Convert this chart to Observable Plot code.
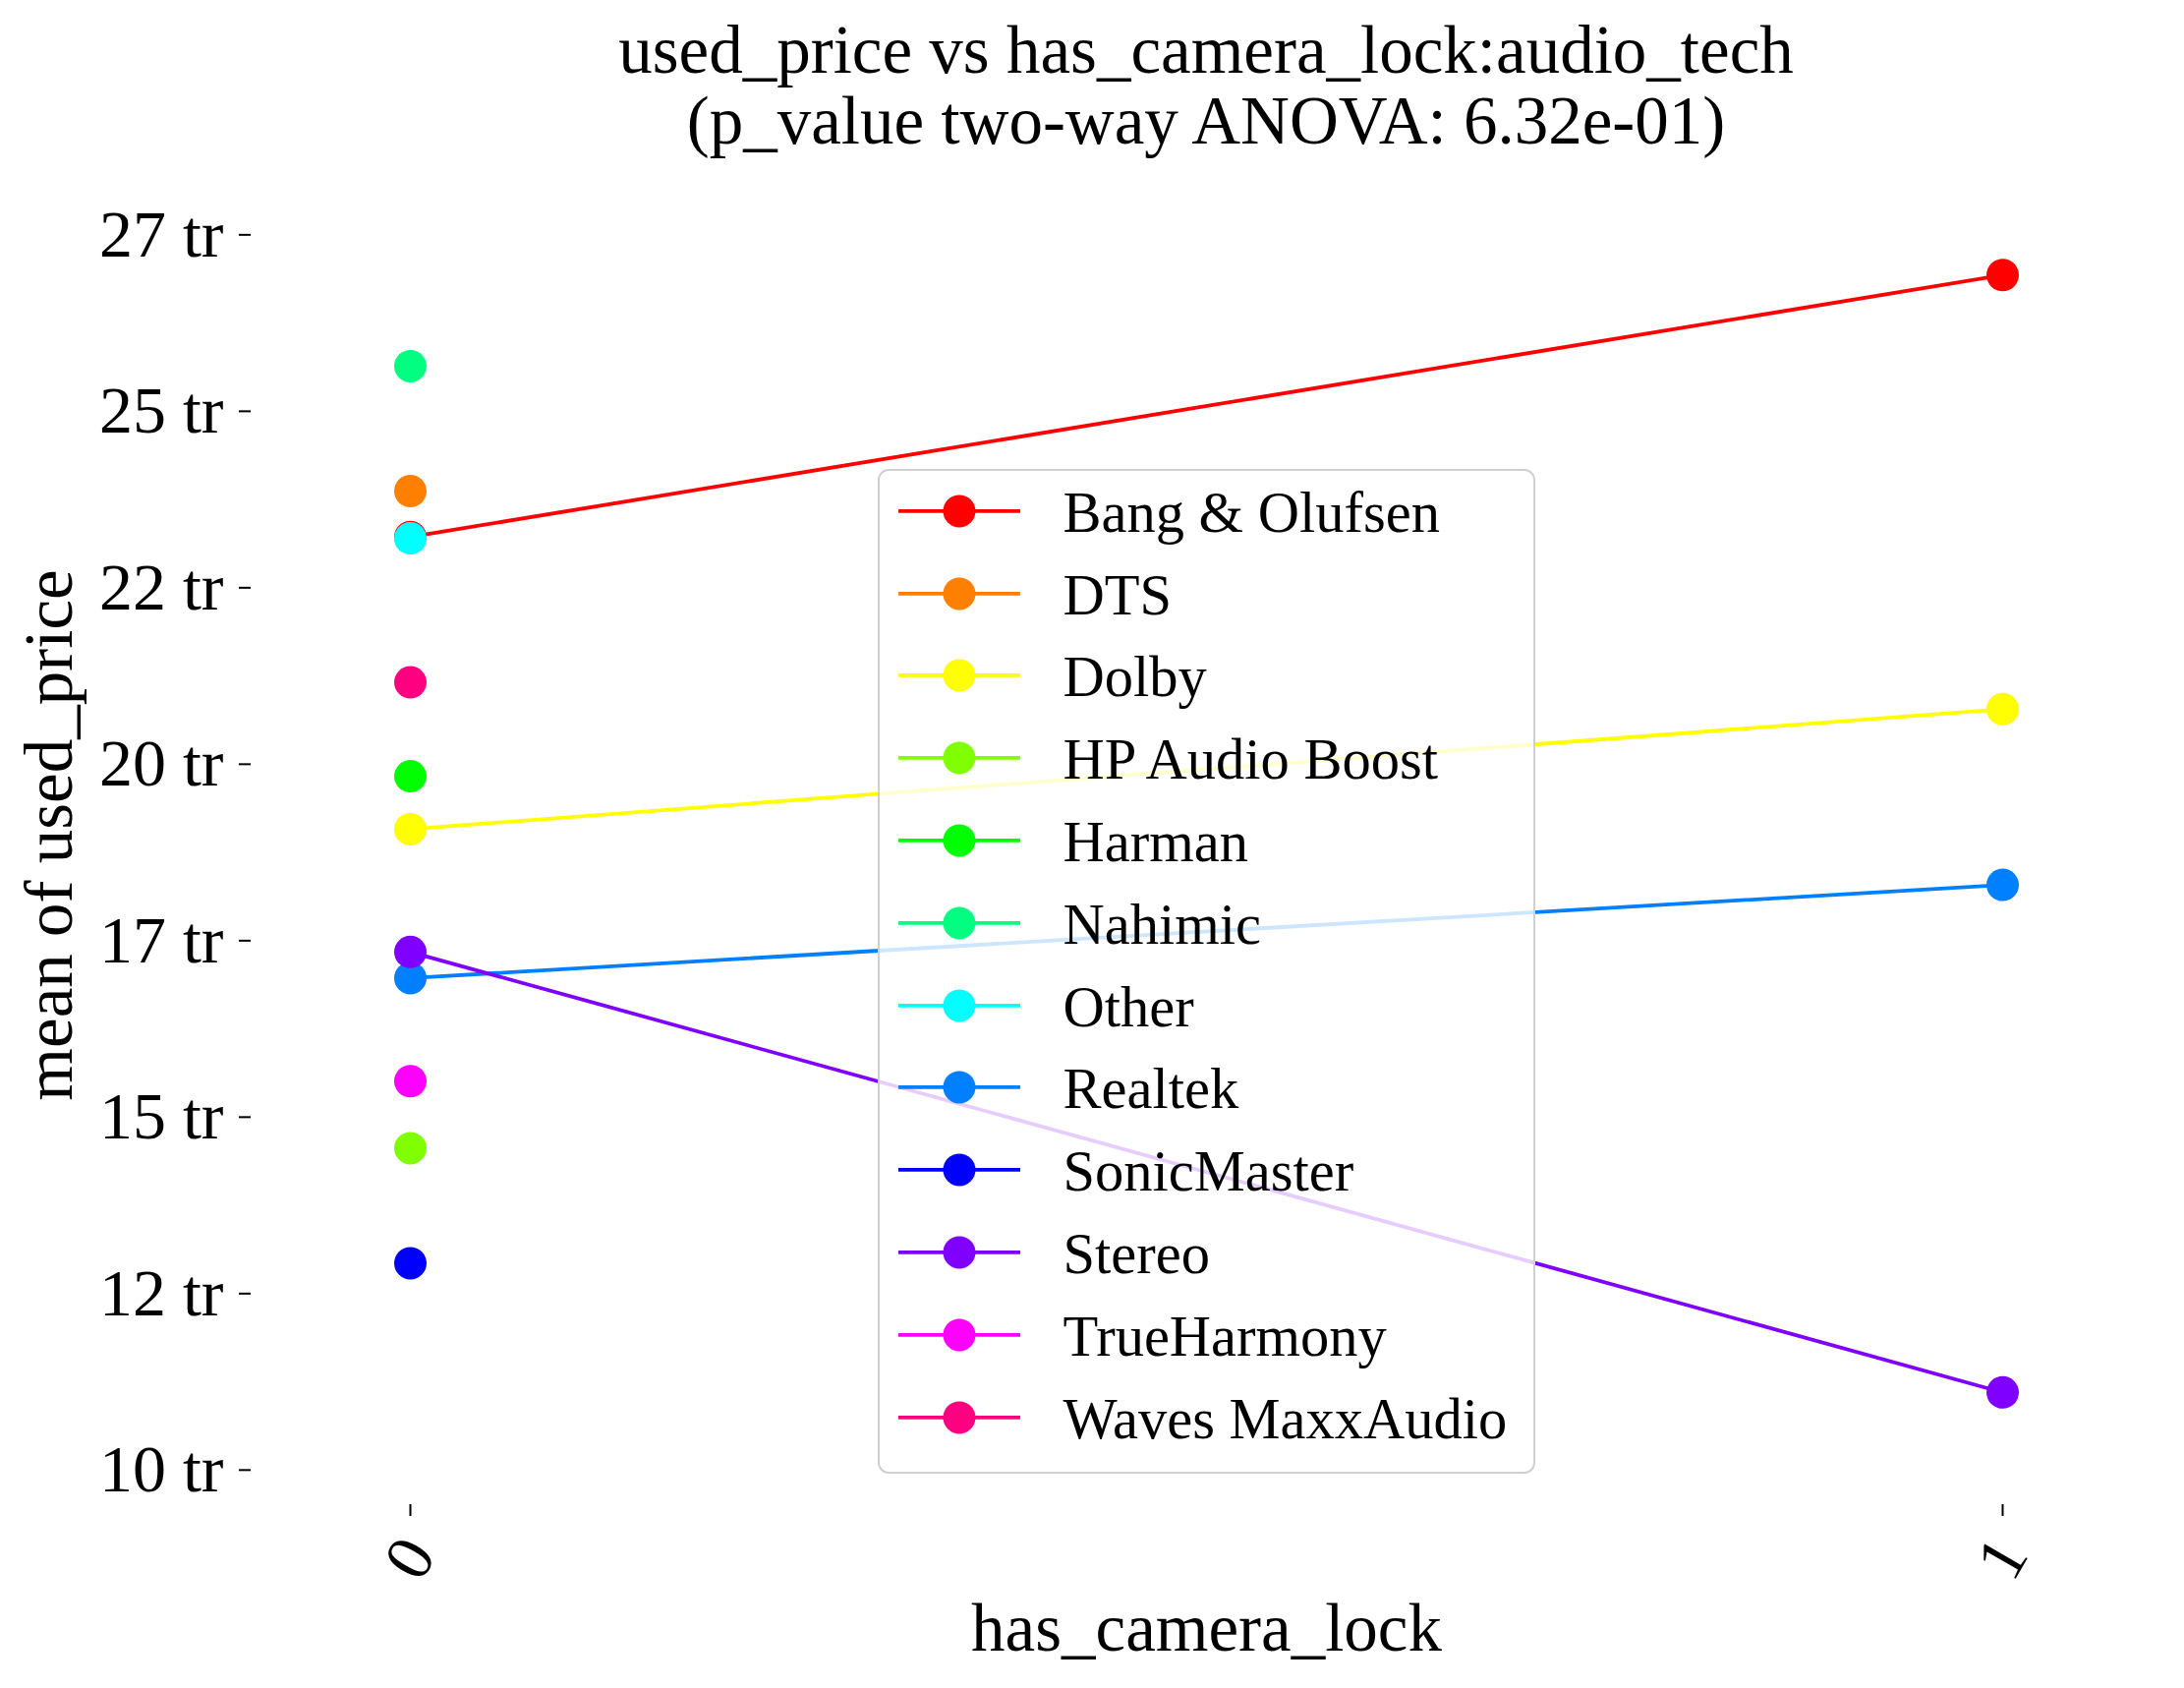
<!DOCTYPE html>
<html>
<head>
<meta charset="utf-8">
<script src="https://cdn.jsdelivr.net/npm/d3@7"></script>
<script src="https://cdn.jsdelivr.net/npm/@observablehq/plot@0.6"></script>
<style>
  html, body { margin: 0; padding: 0; background: white; }
  #wrap { position: relative; width: 2222px; height: 1717px; font-family: "Liberation Serif", "Times New Roman", serif; color: black; }
  #title { position: absolute; left: 255px; width: 1944px; top: 0; padding-top: 16px; font-size: 69px; line-height: 71.7px; text-align: center; z-index: 2; }
  #chart { position: absolute; left: 0; top: 0; }
  #legend { position: absolute; left: 892.5px; top: 476.7px; width: 669px; height: 1022px; box-sizing: border-box;
            border: 2.5px solid #d0d0d0; border-radius: 11px; background: rgba(255,255,255,0.8); z-index: 3; }
  .row { position: absolute; left: 0; height: 83.8px; width: 100%; }
  .row svg { position: absolute; left: 18.5px; top: 0; }
  .row span { position: absolute; left: 187px; top: 2px; font-size: 58.5px; line-height: 83.8px; white-space: nowrap; }
</style>
</head>
<body>
<div id="wrap">
  <div id="title"></div>
  <div id="chart"></div>
  <div id="legend"></div>
</div>
<script>
const titleLines = ["used_price vs has_camera_lock:audio_tech", "(p_value two-way ANOVA: 6.32e-01)"];
const xLabel = "has_camera_lock";
const yLabel = "mean of used_price";
const brands = ["Bang & Olufsen", "DTS", "Dolby", "HP Audio Boost", "Harman", "Nahimic", "Other", "Realtek", "SonicMaster", "Stereo", "TrueHarmony", "Waves MaxxAudio"];
const colors = ["#ff0000", "#ff8000", "#ffff00", "#80ff00", "#00ff00", "#00ff80", "#00ffff", "#0080ff", "#0000ff", "#8000ff", "#ff00ff", "#ff0080"];
const priceAtLock0 = [23.22e6, 23.87e6, 19.08e6, 14.56e6, 19.83e6, 25.64e6, 23.20e6, 16.97e6, 12.93e6, 17.34e6, 15.51e6, 21.16e6];
const priceAtLock1 = [26.93e6, null, 20.78e6, null, null, null, null, 18.29e6, null, 11.10e6, null, null];
const xTicks = [0, 1];
const yTicks = [10e6, 12.5e6, 15e6, 17.5e6, 20e6, 22.5e6, 25e6, 27.5e6];

// title
document.getElementById("title").innerHTML = titleLines.map(t => `<div>${t}</div>`).join("");

// rows
const rows = [];
brands.forEach((b, i) => {
  if (priceAtLock0[i] != null) rows.push({brand: b, lock: 0, price: priceAtLock0[i]});
  if (priceAtLock1[i] != null) rows.push({brand: b, lock: 1, price: priceAtLock1[i]});
});

const seriesMarks = [];
brands.forEach((b, i) => {
  const d = rows.filter(r => r.brand === b);
  seriesMarks.push(Plot.line(d, {x: "lock", y: "price", stroke: colors[i], strokeWidth: 3.8}));
  seriesMarks.push(Plot.dot(d, {x: "lock", y: "price", fill: colors[i], r: 16.5}));
});

const chart = Plot.plot({
  width: 2222,
  height: 1717,
  marginTop: 168,
  marginBottom: 187,
  marginLeft: 255,
  marginRight: 23,
  style: {fontFamily: "Liberation Serif, Times New Roman, serif", background: "white", color: "black"},
  x: {domain: [-0.1, 1.1], axis: null},
  y: {domain: [9.51e6, 28.48e6], axis: null},
  marks: [
    Plot.axisY({ticks: yTicks, tickFormat: d => `${Math.floor(d / 1e6)} tr`, tickSize: 12, tickPadding: 16, fontSize: 68, strokeWidth: 2, label: null}),
    Plot.axisX({ticks: xTicks, tickFormat: d => String(d), tickSize: 12, tickRotate: -60, textAnchor: "middle", lineAnchor: "middle", tickPadding: 43, fontSize: 68, strokeWidth: 2, label: null}),
    ...seriesMarks,
    Plot.text([yLabel], {text: d => d, frameAnchor: "left", dx: -205, rotate: -90, fontSize: 69, lineAnchor: "middle", textAnchor: "middle"}),
    Plot.text([xLabel], {text: d => d, frameAnchor: "bottom", dy: 126, fontSize: 69, lineAnchor: "middle", textAnchor: "middle"})
  ]
});
document.getElementById("chart").appendChild(chart);

// legend
const legend = document.getElementById("legend");
brands.forEach((b, i) => {
  const row = document.createElement("div");
  row.className = "row";
  row.style.top = (43.5 - 2.5 + i * 83.8 - 41.9) + "px";
  row.innerHTML = `<svg width="126" height="83.8"><line x1="1" x2="125" y1="41.9" y2="41.9" stroke="${colors[i]}" stroke-width="3.8"/><circle cx="63" cy="41.9" r="16.5" fill="${colors[i]}"/></svg><span>${b.replace("&", "&amp;")}</span>`;
  legend.appendChild(row);
});
</script>
</body>
</html>
